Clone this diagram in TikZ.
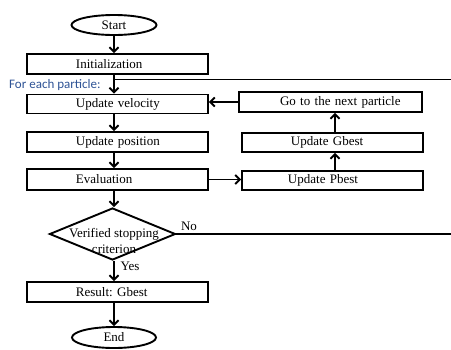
\documentclass[tikz,border=0pt]{standalone}
\usepackage{fontspec}
\setmainfont{Liberation Serif}
\newfontfamily\notefont{Carlito}
\usetikzlibrary{shapes.geometric,arrows.meta}
\definecolor{noteblue}{RGB}{47,84,150}
\frenchspacing
\begin{document}
\begin{tikzpicture}[x=1pt,y=-1pt,
  every node/.style={font=\fontsize{13}{16}\selectfont},
  proc/.style={draw,rectangle,line width=1.9pt,inner xsep=0pt,inner ysep=0pt,
    align=left,text width=#1,minimum height=20pt},
  term/.style={draw,ellipse,line width=1.9pt,inner sep=0pt,minimum width=85pt,minimum height=20pt},
  decide/.style={draw,diamond,line width=1.9pt,inner sep=0pt,minimum width=126pt,minimum height=52pt},
  arr/.style={line width=1.9pt,-{Straight Barb[length=4.5pt,width=9pt]}},
  link/.style={line width=1.5pt},
  note/.style={inner sep=0pt,font=\notefont\fontsize{13}{16}\selectfont,text=noteblue},
  tag/.style={inner sep=0pt}
]
\fill[white] (0,0) rectangle (451,349);
\useasboundingbox (0,0) rectangle (451,349);

% main column
\node[term] (start) at (114,25) {Start};
\node[proc=181pt] (init) at (117.5,64) {\hspace*{49pt}Initialization};
\node[proc=181pt,minimum height=19pt] (uvel) at (117.5,104) {\hspace*{49pt}Update velocity};
\node[proc=181pt] (upos) at (117.5,142) {\hspace*{49pt}Update position};
\node[proc=181pt,minimum height=21pt] (eval) at (117.5,179.5) {\hspace*{49pt}Evaluation};
\node[decide] (dec) at (112.5,234) {};
\node[tag,align=center] (dectext) at (114,241) {Verified stopping\\criterion};
\node[proc=181pt] (res) at (117.5,292) {\hspace*{49pt}Result: Gbest};
\node[term,minimum width=84pt,minimum height=21pt] (end) at (114,337.5) {End};

% particle loop column
\node[proc=183pt] (go) at (330.5,102) {\hspace*{41pt}Go to the next particle};
\node[proc=181pt,minimum height=19pt] (gbest) at (332.5,142.5) {\hspace*{49pt}Update Gbest};
\node[proc=181pt,minimum height=19pt] (pbest) at (332.5,180.5) {\hspace*{46pt}Update Pbest};

% labels
\node[note,anchor=west] (each) at (9,85) {For each particle:};
\node[tag] (no) at (189,226) {No};
\node[tag] (yes) at (130,266) {Yes};

% free ends at the right border
\coordinate (loopend) at (451,79.5);
\coordinate (rim) at (451,0);
\coordinate (rcol) at (335,0);

% main flow
\draw[arr] (start.south) -- (start |- init.north);
\draw[arr] (start |- init.south) -- (start |- uvel.north);
\draw[arr] (start |- uvel.south) -- (start |- upos.north);
\draw[arr] (start |- upos.south) -- (start |- eval.north);
\draw[arr] (start |- eval.south) -- (start |- dec.north);
\draw[arr] (start |- dec.south) -- (start |- res.north);
\draw[arr] (start |- res.south) -- (end.north);

% particle loop
\draw[arr] (eval.east) -- (pbest.west |- eval.east);
\draw[arr] (rcol |- pbest.north) -- (rcol |- gbest.south);
\draw[arr] (rcol |- gbest.north) -- (rcol |- go.south);
\draw[arr] (go.west) -- (uvel.east |- go.west);

% lines leaving to the right
\draw[link] (start |- loopend) -- (loopend);
\draw[link] (dec.east) -- (dec.east -| rim);
\end{tikzpicture}
\end{document}
